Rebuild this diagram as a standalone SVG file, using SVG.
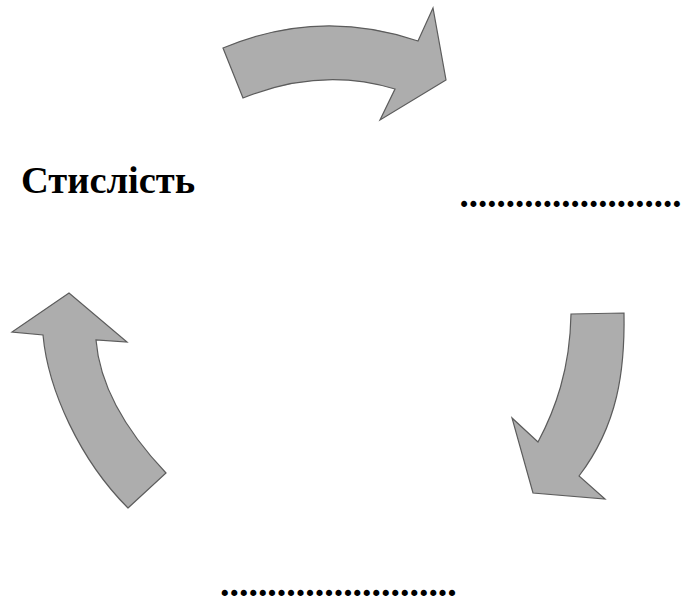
<svg xmlns="http://www.w3.org/2000/svg" width="684" height="599" viewBox="0 0 684 599">
  <style>
    .arrow { fill: #adadad; stroke: #5c5c5c; stroke-width: 1.2; stroke-linejoin: miter; }
    .label { font-family: "Liberation Serif", "Times New Roman", serif; font-weight: bold; fill: #000; }
  </style>
  <rect width="684" height="599" fill="#ffffff"/>
  <g id="connectors">
    <path id="arrow-top" class="arrow" d="M 223,48 Q 319.5,7.5 418,41 L 433,8 L 446,80 L 380,120 L 395,89 Q 321,66.5 243,98 Z"/>
    <path id="arrow-right" class="arrow" d="M 571,314 L 624,313 C 625,370 618,425 579,476 L 605,499 L 533,493 L 512,418 L 538,442 C 555,410 570,370 571,314 Z"/>
    <path id="arrow-left" class="arrow" d="M 128,508 L 166,473 C 130,435 100,390 96,340 L 127,342 L 69,293 L 12,332 L 43,335 C 48,390 80,460 128,508 Z"/>
  </g>
  <g id="node-stylist">
    <text class="label" x="21" y="192.5" font-size="38.5">Стислість</text>
  </g>
  <g id="node-right">
    <text class="label" x="459.5" y="206.5" font-size="37">........................</text>
  </g>
  <g id="node-bottom">
    <text class="label" x="220" y="595.5" font-size="37.9">.........................</text>
  </g>
</svg>
